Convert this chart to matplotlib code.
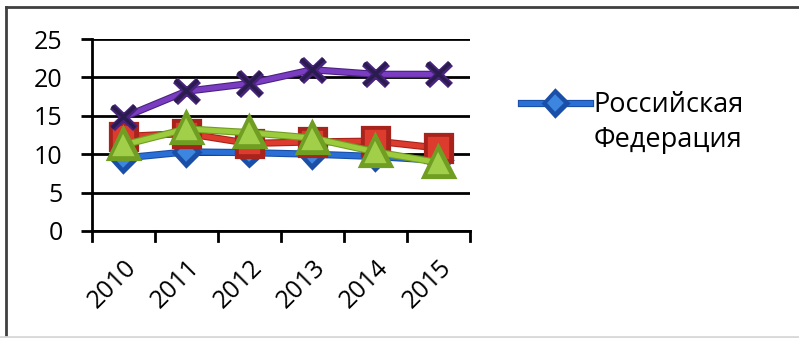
import matplotlib
matplotlib.use("Agg")
import matplotlib.pyplot as plt
import matplotlib.patheffects as pe
from matplotlib.lines import Line2D
import numpy as np

plt.rcParams["font.family"] = ["Open Sans", "DejaVu Sans"]

years = ["2010", "2011", "2012", "2013", "2014", "2015"]
russia = [9.5, 10.3, 10.2, 10.0, 9.7, 9.2]
red_series = [12.3, 12.7, 11.4, 11.6, 11.7, 10.8]
green_series = [11.2, 13.3, 12.8, 12.1, 10.3, 8.9]
purple_series = [14.8, 18.2, 19.2, 21.0, 20.4, 20.4]

fig = plt.figure(figsize=(7.99, 3.38), dpi=100)
ax = fig.add_axes([0.1151, 0.3166, 0.4731, 0.568])

x = np.arange(len(years))


def outline(color):
    return [pe.Stroke(linewidth=5.2, foreground=color), pe.Normal()]


ax.plot(x, russia, color="#2a6fd6", lw=3.6, marker="D", ms=11,
        mfc="#3d86e0", mec="#1a4fa8", mew=1.2, zorder=3,
        path_effects=outline("#1a4fa8"))
ax.plot(x, red_series, color="#dc3b2e", lw=3.6, marker="s", ms=17,
        mfc="#dc3b2e", mec="#a8231c", mew=1.2, zorder=4,
        path_effects=outline("#a8231c"))
ax.plot(x, green_series, color="#9ccb3e", lw=3.6, marker="^", ms=18,
        mfc="#a2cf4a", mec="#6f9e22", mew=1.2, zorder=5,
        path_effects=outline("#6f9e22"))
ax.plot(x, purple_series, color="#7a3cc0", lw=3.6, marker="x", ms=16,
        mec="#2b1c4f", mew=2.6, zorder=6,
        path_effects=outline("#4a2380"))

ax.set_xlim(-0.5, len(years) - 0.5)
ax.set_ylim(0, 25)
ax.set_yticks(range(0, 26, 5))
ax.set_xticks(x)
ax.set_xticklabels(years, rotation=45, ha="right", va="top",
                   rotation_mode="anchor", fontsize=18)
ax.tick_params(axis="x", length=0, pad=17)
ax.tick_params(axis="y", length=8, width=2, labelsize=18, pad=13)

# category boundary ticks on the x axis
for b in np.arange(-0.5, len(years), 1.0):
    ax.plot([b, b], [0, -0.05], transform=ax.get_xaxis_transform(),
            color="black", lw=2, clip_on=False, zorder=7)

ax.grid(axis="y", color="black", lw=2)
ax.set_axisbelow(True)
for side in ["top", "right"]:
    ax.spines[side].set_visible(False)
ax.spines["left"].set_linewidth(2)
ax.spines["bottom"].set_linewidth(2)

handle = Line2D([], [], color="#2a6fd6", lw=3.6, marker="D", ms=10,
                mfc="#3d86e0", mec="#1a4fa8", mew=1.2,
                path_effects=outline("#1a4fa8"))
blank = Line2D([], [], linestyle="none")
fig.legend([handle, blank], ["Российская", "Федерация"], loc="upper left",
           bbox_to_anchor=(0.652, 0.73), frameon=False, fontsize=19.5,
           handlelength=2.55, handletextpad=0.12, labelspacing=0.25,
           borderaxespad=0, borderpad=0)

# outer frame
fig.add_artist(Line2D([0.007, 1.0], [0.98, 0.98], transform=fig.transFigure,
                      color="#404040", lw=2))
fig.add_artist(Line2D([0.008, 0.008], [0.0, 0.98], transform=fig.transFigure,
                      color="#404040", lw=2))
fig.add_artist(Line2D([0.0, 1.0], [0.002, 0.002], transform=fig.transFigure,
                      color="#d8d8d8", lw=2))

fig.savefig("out.png", dpi=100)
